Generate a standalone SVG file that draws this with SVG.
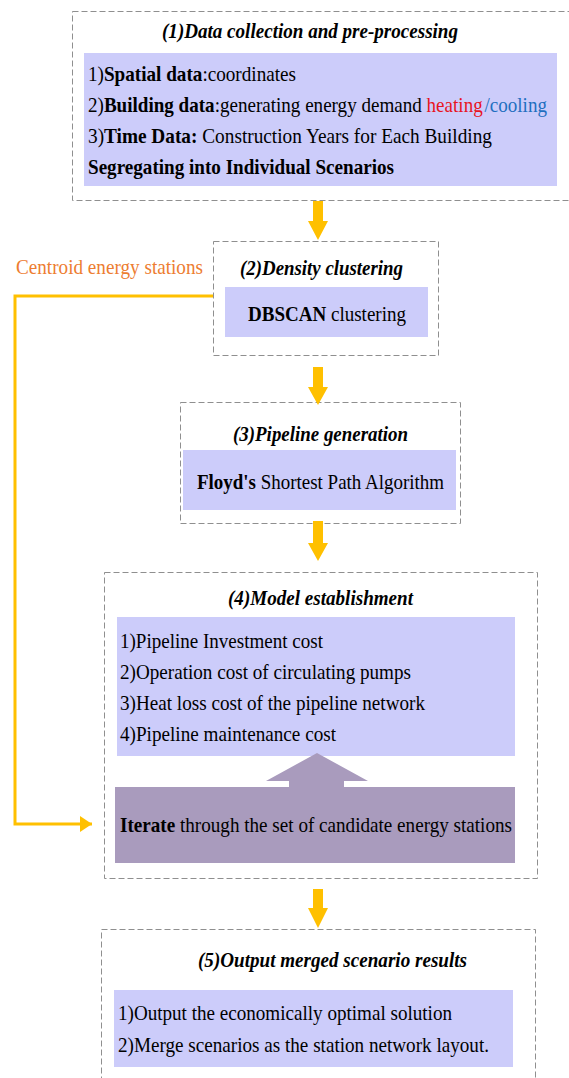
<svg xmlns="http://www.w3.org/2000/svg" width="569" height="1078" viewBox="0 0 569 1078">
<style>
.frame{fill:#ffffff;stroke:#8f8f8f;stroke-width:1;stroke-dasharray:6,3}
.inner{fill:#ccccfa}
.purple{fill:#a99bbd}
.t{font-family:"Liberation Serif","Times New Roman",serif;font-size:21px;fill:#000}
.title{font-family:"Liberation Serif","Times New Roman",serif;font-size:21px;font-weight:bold;font-style:italic;fill:#000}
.b{font-weight:bold}
.blk{fill:#ffc000}
.wire{fill:none;stroke:#ffc000;stroke-width:3}
</style>
<defs>
<marker id="ah" markerWidth="12" markerHeight="16" refX="12" refY="8" orient="auto" markerUnits="userSpaceOnUse">
<polygon points="0,0 12,8 0,16" fill="#ffc000"/>
</marker>
</defs>
<g id="node1">
<rect class="frame" x="72.5" y="11.5" width="500" height="189"/>
<text class="title" x="162" y="38" textLength="296" lengthAdjust="spacingAndGlyphs">(1)Data collection and pre-processing</text>
<rect class="inner" x="84" y="53" width="473" height="133"/>
<text class="t" x="88" y="81" textLength="208" lengthAdjust="spacingAndGlyphs">1)<tspan class="b">Spatial data</tspan>:coordinates</text>
<text class="t" x="88" y="112" textLength="459" lengthAdjust="spacingAndGlyphs">2)<tspan class="b">Building data</tspan>:generating energy demand <tspan style="fill:#e8141e">heating</tspan><tspan dx="2" style="fill:#1f6fc0">/cooling</tspan></text>
<text class="t" x="88" y="143" textLength="404" lengthAdjust="spacingAndGlyphs">3)<tspan class="b">Time Data:</tspan> Construction Years for Each Building</text>
<text class="t b" x="88" y="174" textLength="306" lengthAdjust="spacingAndGlyphs">Segregating into Individual Scenarios</text>
</g>
<g id="node2">
<rect class="frame" x="213.5" y="241.5" width="225" height="114"/>
<text class="title" x="240" y="275" textLength="163" lengthAdjust="spacingAndGlyphs">(2)Density clustering</text>
<rect class="inner" x="225" y="287" width="203" height="50"/>
<text class="t" x="248" y="321" textLength="158" lengthAdjust="spacingAndGlyphs"><tspan class="b">DBSCAN</tspan> clustering</text>
</g>
<g id="node3">
<rect class="frame" x="180.5" y="402.5" width="280" height="121"/>
<text class="title" x="233" y="441" textLength="175" lengthAdjust="spacingAndGlyphs">(3)Pipeline generation</text>
<rect class="inner" x="183" y="450" width="273" height="60"/>
<text class="t" x="197" y="489" textLength="247" lengthAdjust="spacingAndGlyphs"><tspan class="b">Floyd's</tspan> Shortest Path Algorithm</text>
</g>
<g id="node4">
<rect class="frame" x="104.5" y="572.5" width="433" height="306"/>
<text class="title" x="228" y="605" textLength="185" lengthAdjust="spacingAndGlyphs">(4)Model establishment</text>
<rect class="inner" x="117" y="617" width="398" height="139"/>
<text class="t" x="120" y="648" textLength="203" lengthAdjust="spacingAndGlyphs">1)Pipeline Investment cost</text>
<text class="t" x="120" y="679" textLength="291" lengthAdjust="spacingAndGlyphs">2)Operation cost of circulating pumps</text>
<text class="t" x="120" y="710" textLength="305" lengthAdjust="spacingAndGlyphs">3)Heat loss cost of the pipeline network</text>
<text class="t" x="120" y="741" textLength="216" lengthAdjust="spacingAndGlyphs">4)Pipeline maintenance cost</text>
<polygon class="purple" points="289,787 289,781 266,781 317,753 368,781 344,781 344,787"/>
<rect class="purple" x="115" y="787" width="400" height="76"/>
<text class="t" x="120" y="832" textLength="392" lengthAdjust="spacingAndGlyphs"><tspan class="b">Iterate</tspan> through the set of candidate energy stations</text>
</g>
<g id="node5">
<rect class="frame" x="101.5" y="929.5" width="434" height="160"/>
<text class="title" x="198" y="967" textLength="269" lengthAdjust="spacingAndGlyphs">(5)Output merged scenario results</text>
<rect class="inner" x="114" y="990" width="399" height="77"/>
<text class="t" x="118" y="1020" textLength="334" lengthAdjust="spacingAndGlyphs">1)Output the economically optimal solution</text>
<text class="t" x="118" y="1052" textLength="371" lengthAdjust="spacingAndGlyphs">2)Merge scenarios as the station network layout.</text>
</g>
<g id="label-centroid">
<text class="t" x="16" y="274" style="fill:#ed7d31" textLength="187" lengthAdjust="spacingAndGlyphs">Centroid energy stations</text>
</g>
<g id="connectors">
<polygon class="blk" points="313,201 323,201 323,221 328,221 318,240 308,221 313,221"/>
<polygon class="blk" points="313,367 323,367 323,387 328,387 318,405 308,387 313,387"/>
<polygon class="blk" points="313,521 323,521 323,543 328,543 318,561 308,543 313,543"/>
<polygon class="blk" points="313,889 323,889 323,908 328,908 318,928 308,908 313,908"/>
<path class="wire" d="M213,296 H15 V824 H92" marker-end="url(#ah)"/>
</g>
</svg>
